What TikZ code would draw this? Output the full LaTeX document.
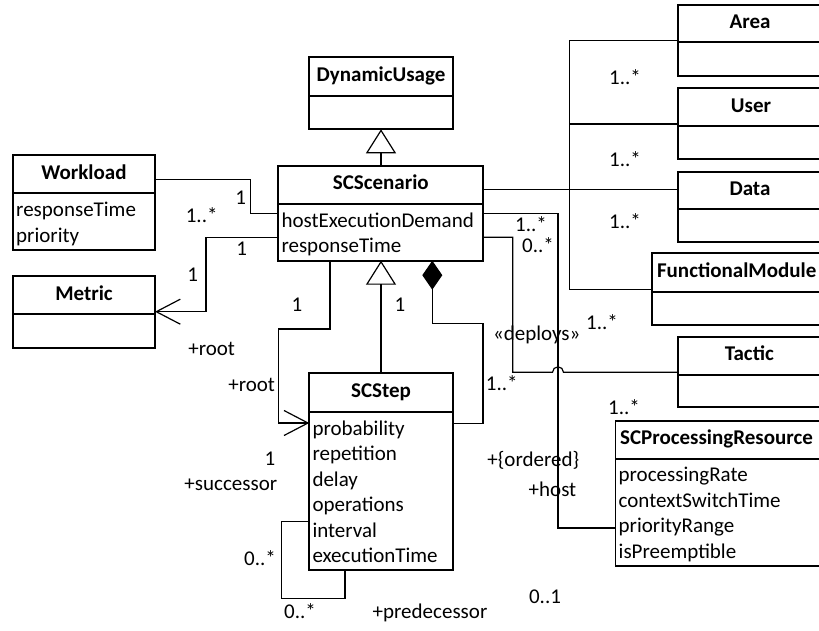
\documentclass[tikz,border=0pt]{standalone}
\usepackage{fontspec}
\setmainfont{Carlito}
\usetikzlibrary{arrows.meta}
\tikzset{
  boxln/.style={line width=1.7pt},
  conn/.style={line width=1.2pt},
  clsshape/.style={draw, boxln, inner sep=0pt, outer sep=0pt, anchor=north west},
  ttl/.style={font=\fontsize{21}{25.5}\selectfont\bfseries, inner sep=0pt, text height=14pt, text depth=4pt},
  attr/.style={font=\fontsize{21}{25.5}\selectfont, inner sep=0pt, anchor=base west},
  lbl/.style={font=\fontsize{21}{25.5}\selectfont, inner sep=0pt, text height=14pt, text depth=4pt},
  openarr/.style={-{Straight Barb[length=24pt,width=25pt]}},
  genarr/.style={-{Triangle[open,length=24pt,width=30pt]}},
  comp/.style={{Diamond[length=29pt,width=20pt]}-},
}
\newcommand{\umlbox}[8]{%
  \node[clsshape, minimum width={(#4-#2)*1pt}, minimum height={(#6-#3)*1pt}] (#1) at (#2,#3) {};
  \draw[boxln] (#1.west |- 0,#5) -- (#1.east |- 0,#5);
  \node[ttl] (#1-t) at ({#8},{(#3+#5)/2}) {#7};
}
\newcommand{\umlattrs}[4]{%
  \foreach \a [count=\i] in {#4} {\node[attr] (#1-a\i) at ({#2+3},{#3+(\i-1)*25.5}) {\a};}
}
\begin{document}
\begin{tikzpicture}[x=1pt,y=-1pt]
\useasboundingbox (0,0) rectangle (819,631);
\clip (0,0) rectangle (819,631);

% classes
\umlbox{dyn}{309.3}{57.3}{452.7}{96}{129.3}{DynamicUsage}{381}
\umlbox{scen}{278.3}{166}{483.3}{204}{260.7}{SCScenario}{380.8}
\umlattrs{scen}{278.3}{227.3}{hostExecutionDemand,responseTime}
\umlbox{work}{13}{155}{155}{193.3}{250}{Workload}{84}
\umlattrs{work}{13}{216.6}{responseTime,priority}
\umlbox{metric}{13}{276}{155}{314}{348}{Metric}{84}
\umlbox{step}{309.3}{373.3}{452.7}{411.7}{570}{SCStep}{381}
\umlattrs{step}{309.3}{435}{probability,repetition,delay,operations,interval,executionTime}
\umlbox{area}{678.3}{5}{826}{42.3}{76}{Area}{750}
\umlbox{user}{678.3}{88.3}{826}{126}{158.7}{User}{751}
\umlbox{data}{678.3}{171.7}{826}{209}{242.3}{Data}{750}
\umlbox{fm}{651.7}{253.3}{826}{292.3}{325}{FunctionalModule}{736.7}
\umlbox{tactic}{678.3}{336.7}{826}{375}{407.3}{Tactic}{749.3}
\umlbox{res}{615.5}{420.7}{826}{458.7}{566}{SCProcessingResource}{716.5}
\umlattrs{res}{615.5}{481.5}{processingRate,contextSwitchTime,priorityRange,isPreemptible}

% generalizations
\draw[conn, genarr] (scen.north -| dyn.south) -- (dyn.south);
\draw[conn, genarr] (step.north) -- (scen.south -| step.north);
% composition
\draw[conn, comp] (scen.south -| 432.3,0) -- (432.3,323.3) -| (483,423.3) -- (step.east |- 0,423.3);
% root
\draw[conn, openarr] (scen.south -| 330,0) |- (278.7,329) |- (step.west |- 0,423);
% self association
\draw[conn] (step.west |- 0,521.7) -| (281.7,598.3) -| (step.south -| 345,0);
% workload
\draw[conn] (work.east |- 0,179.3) -| (250.7,213.3) -- (scen.west |- 0,213.3);
% metric
\draw[conn, openarr] (scen.west |- 0,237.3) -| (206,311.7) -- (metric.east |- 0,311.7);
% bus to right classes
\coordinate (bb) at (569.3,289.3);
\coordinate (bu) at (569.3,124);
\coordinate (bd) at (569.3,189.5);
\draw[conn] (scen.east |- 0,189.5) -- (bd);
\draw[conn] (area.west |- 0,40.7) -| (bb) -- (fm.west |- 0,289.3);
\draw[conn] (bu) -- (user.west |- 0,124);
\draw[conn] (bd) -- (data.west |- 0,189.5);
% tactic
\draw[conn] (scen.east |- 0,237.3) -| (512.7,372.3) -- (552.5,372.3) arc[start angle=180, end angle=0, radius=5.5pt] -- (tactic.west |- 0,372.3);
% host
\draw[conn] (scen.east |- 0,213.5) -| (558,528) -- (res.west |- 0,528);

% labels
\node[lbl] (l1) at (240.7,200) {1};
\node[lbl] (l2) at (201.7,217.3) {1..*};
\node[lbl] (l3) at (241.7,250.7) {1};
\node[lbl] (l4) at (192.7,276) {1};
\node[lbl] (l5) at (297,306) {1};
\node[lbl] (l6) at (400,306) {1};
\node[lbl] (l7) at (211.7,350) {+root};
\node[lbl] (l8) at (251.7,386.7) {+root};
\node[lbl] (l9) at (501.7,385) {1..*};
\node[lbl] (l10) at (270,460.7) {1};
\node[lbl] (l11) at (230.8,485) {+successor};
\node[lbl] (l12) at (260,560) {0..*};
\node[lbl] (l13) at (300,613.3) {0..*};
\node[lbl] (l14) at (430,613.3) {+predecessor};
\node[lbl] (l15) at (625,80) {1..*};
\node[lbl] (l16) at (625,161.7) {1..*};
\node[lbl] (l17) at (625,223.3) {1..*};
\node[lbl] (l18) at (531,226.7) {1..*};
\node[lbl] (l19) at (538,247.5) {0..*};
\node[lbl] (l20) at (536.7,335) {«deploys»};
\node[lbl] (l21) at (602,324) {1..*};
\node[lbl] (l22) at (624,409) {1..*};
\node[lbl] (l23) at (533.3,461) {+\{ordered\}};
\node[lbl] (l24) at (552.5,491.7) {+host};
\node[lbl] (l25) at (545,598) {0..1};
\end{tikzpicture}
\end{document}
